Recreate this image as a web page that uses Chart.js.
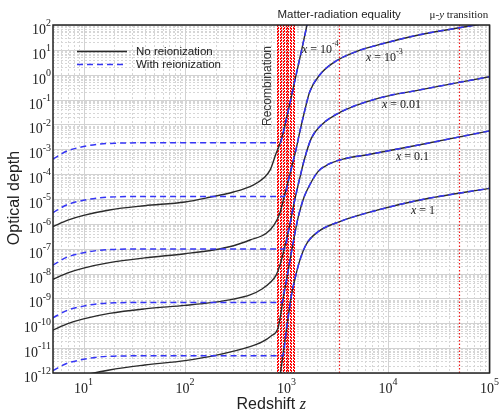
<!DOCTYPE html>
<html>
<head>
<meta charset="utf-8">
<script src="https://cdn.jsdelivr.net/npm/chart.js@4.4.0/dist/chart.umd.min.js"></script>
<style>
  body { margin: 0; background: #fff; }
  canvas { display: block; }
</style>
</head>
<body>
<canvas id="chart" width="502" height="413"></canvas>
<script>
// redshift / optical depth
// black solid = no reionization, blue dashed = with reionization

const z_no_1e4   = [5, 7, 10, 18, 40, 100, 175, 300, 470, 600, 690, 790, 860, 925, 1000, 1120, 1260, 1410, 1600]
const tau_no_1e4 = [7.76e-7, 1.41e-6, 2.19e-6, 3.63e-6, 5.37e-6, 7.59e-6, 1.17e-5, 1.91e-5, 3.63e-5, 7.08e-5, 1.48e-4, 6.92e-4, 1.66e-3, 4.47e-3, 1.78e-2, 0.141, 1.26, 10, 112]

const z_no_1e3   = [5, 7, 10, 18, 40, 100, 190, 300, 437, 632, 760, 857, 950, 1050, 1150, 1250, 1343, 1500, 1690, 2110, 2990, 5000, 7980, 20000, 64000, 100000]
const tau_no_1e3 = [5.89e-9, 1.07e-8, 1.66e-8, 2.75e-8, 4.27e-8, 6.31e-8, 8.91e-8, 1.32e-7, 2.24e-7, 4.17e-7, 9.55e-7, 2.63e-6, 1.26e-5, 6.31e-5, 2.82e-4, 1.12e-3, 4.47e-3, 3.16e-2, 0.2, 0.955, 3.31, 8.91, 15.8, 39.8, 91.2, 126]

const z_no_1e2   = [5, 7, 10, 18, 40, 100, 190, 300, 437, 574, 690, 790, 870, 950, 1050, 1205, 1349, 1510, 1754, 2203, 3467, 7962, 20000, 100000]
const tau_no_1e2 = [5.37e-11, 9.77e-11, 1.51e-10, 2.51e-10, 3.8e-10, 5.25e-10, 6.92e-10, 9.33e-10, 1.38e-9, 2.4e-9, 4.37e-9, 8.71e-9, 2.51e-8, 1.0e-7, 5.62e-7, 9.12e-6, 6.76e-5, 4.37e-4, 2.75e-3, 9.55e-3, 3.24e-2, 0.112, 0.24, 0.832]

const z_no_1e1   = [5, 7, 10, 18, 40, 100, 205, 437, 574, 700, 824, 880, 925, 1000, 1100, 1200, 1300, 1455, 1567, 2043, 2600, 3740, 6650, 20000, 100000]
const tau_no_1e1 = [2.82e-13, 5.01e-13, 7.94e-13, 1.32e-12, 2.09e-12, 3.16e-12, 5.25e-12, 1.15e-11, 1.78e-11, 3.02e-11, 6.46e-11, 2.51e-10, 1.0e-9, 5.62e-9, 5.01e-8, 3.55e-7, 1.78e-6, 9.12e-6, 1.95e-5, 1.26e-4, 2.51e-4, 4.17e-4, 6.31e-4, 1.48e-3, 5.5e-3]

const z_no_1   = [700, 824, 862, 900, 995, 1115, 1205, 1349, 1567, 2043, 3340, 7960, 20650, 100000]
const tau_no_1 = [1.78e-13, 3.16e-13, 7.94e-13, 2.51e-12, 5.01e-11, 1.26e-9, 5.62e-9, 3.31e-8, 1.51e-7, 4.79e-7, 1.23e-6, 3.63e-6, 9.12e-6, 2.69e-5]

const z_re_1e4   = [5, 6.8, 10, 14.5, 21, 40, 200, 866, 925, 1000, 1120, 1260, 1410, 1600]
const tau_re_1e4 = [4.07e-4, 8.32e-4, 1.29e-3, 1.62e-3, 1.76e-3, 1.82e-3, 1.82e-3, 1.82e-3, 4.47e-3, 1.78e-2, 0.141, 1.26, 10, 112]

const z_re_1e3   = [5, 6.8, 10, 14.5, 21, 40, 200, 950, 1050, 1150, 1250, 1343, 1500, 1690, 2110, 2990, 5000, 7980, 20000, 64000, 100000]
const tau_re_1e3 = [2.82e-6, 5.75e-6, 8.91e-6, 1.12e-5, 1.22e-5, 1.26e-5, 1.26e-5, 1.26e-5, 6.31e-5, 2.82e-4, 1.12e-3, 4.47e-3, 3.16e-2, 0.2, 0.955, 3.31, 8.91, 15.8, 39.8, 91.2, 126]

const z_re_1e2   = [5, 6.8, 10, 14.5, 21, 40, 200, 950, 1050, 1205, 1349, 1510, 1754, 2203, 3467, 7962, 20000, 100000]
const tau_re_1e2 = [2.19e-8, 4.47e-8, 6.92e-8, 8.71e-8, 9.44e-8, 9.77e-8, 9.77e-8, 9.77e-8, 5.62e-7, 9.12e-6, 6.76e-5, 4.37e-4, 2.75e-3, 9.55e-3, 3.24e-2, 0.112, 0.24, 0.832]

const z_re_1e1   = [5, 6.8, 10, 14.5, 21, 40, 200, 913, 925, 1000, 1100, 1200, 1300, 1455, 1567, 2043, 2600, 3740, 6650, 20000, 100000]
const tau_re_1e1 = [1.66e-10, 3.24e-10, 4.9e-10, 6.17e-10, 6.68e-10, 6.92e-10, 6.92e-10, 6.92e-10, 1.0e-9, 5.62e-9, 5.01e-8, 3.55e-7, 1.78e-6, 9.12e-6, 1.95e-5, 1.26e-4, 2.51e-4, 4.17e-4, 6.31e-4, 1.48e-3, 5.5e-3]

const z_re_1   = [5, 6.8, 10, 14.5, 21, 40, 200, 920, 995, 1115, 1205, 1349, 1567, 2043, 3340, 7960, 20650, 100000]
const tau_re_1 = [1.26e-12, 2.4e-12, 3.55e-12, 4.47e-12, 4.79e-12, 4.9e-12, 4.9e-12, 4.9e-12, 5.01e-11, 1.26e-9, 5.62e-9, 3.31e-8, 1.51e-7, 4.79e-7, 1.23e-6, 3.63e-6, 9.12e-6, 2.69e-5]

// vertical markers (redshift)
const recombZ = [800, 830, 860, 890, 920, 950, 980, 1010, 1045, 1080, 1115, 1150, 1190]
const equalityZ = 3300
const muyZ = 50000

const yExponents = [2, 1, 0, -1, -2, -3, -4, -5, -6, -7, -8, -9, -10, -11, -12]
const xExponents = [1, 2, 3, 4, 5]

const BLACK = '#2b2b2b'
const BLUE = '#3535f5'

function pts(zs, taus) {
    return zs.map((z, i) => ({x: z, y: taus[i]}))
}

function solid(zs, taus) {
    return {data: pts(zs, taus), borderColor: BLACK, borderWidth: 1.4, order: 2}
}
function dashed(zs, taus) {
    return {data: pts(zs, taus), borderColor: BLUE, borderWidth: 1.5, borderDash: [6, 4], order: 1}
}

// draws "10" with a raised exponent
function pow10(ctx, x, y, exp, size, align) {
    ctx.font = size + 'px "Liberation Serif"'
    const wb = ctx.measureText('10').width
    const small = Math.round(size * 0.68)
    ctx.font = small + 'px "Liberation Serif"'
    const we = ctx.measureText(exp).width
    let x0 = x
    if (align === 'right') x0 = x - wb - we
    else if (align === 'center') x0 = x - (wb + we) / 2
    ctx.textAlign = 'left'
    ctx.textBaseline = 'alphabetic'
    ctx.font = size + 'px "Liberation Serif"'
    ctx.fillText('10', x0, y)
    ctx.font = small + 'px "Liberation Serif"'
    ctx.fillText(exp, x0 + wb, y - size * 0.55)
    return x0 + wb + we
}

function curveLabel(ctx, x, y, value, exp) {
    ctx.fillStyle = '#222'
    ctx.textAlign = 'left'
    ctx.textBaseline = 'alphabetic'
    ctx.font = 'italic 12px "Liberation Serif"'
    ctx.fillText('x', x, y)
    let w = ctx.measureText('x').width
    ctx.font = '12px "Liberation Serif"'
    const eq = ' = ' + (exp ? '' : value)
    ctx.fillText(eq, x + w, y)
    w += ctx.measureText(eq).width
    if (exp) pow10(ctx, x + w, y, exp, 12, 'left')
}

const decor = {
    id: 'decor',
    beforeDatasetsDraw(chart) {
        const {ctx, chartArea: a, scales: {x, y}} = chart
        ctx.save()
        ctx.lineWidth = 1
        // horizontal grid
        for (let e = -12; e <= 2; e++) {
            for (let m = 1; m <= 9; m++) {
                const v = m * Math.pow(10, e)
                if (v > y.max * 1.0001) continue
                const py = Math.round(y.getPixelForValue(v)) + 0.5
                ctx.beginPath()
                if (m === 1) { ctx.setLineDash([]); ctx.strokeStyle = '#d2d2d2' }
                else { ctx.setLineDash([2, 2]); ctx.strokeStyle = '#d6d6d6' }
                ctx.moveTo(a.left, py); ctx.lineTo(a.right, py); ctx.stroke()
            }
        }
        // vertical grid
        for (let e = 0; e <= 5; e++) {
            for (let m = 1; m <= 9; m++) {
                const v = m * Math.pow(10, e)
                if (v < x.min || v > x.max * 1.0001) continue
                const px = Math.round(x.getPixelForValue(v)) + 0.5
                ctx.beginPath()
                if (m === 1) { ctx.setLineDash([]); ctx.strokeStyle = '#d2d2d2' }
                else { ctx.setLineDash([2, 2]); ctx.strokeStyle = '#d6d6d6' }
                ctx.moveTo(px, a.top); ctx.lineTo(px, a.bottom); ctx.stroke()
            }
        }
        // recombination band
        ctx.strokeStyle = '#ff0000'
        ctx.lineWidth = 1
        ctx.setLineDash([2, 1])
        recombZ.forEach((z, i) => {
            const px = Math.round(x.getPixelForValue(z)) + 0.5
            ctx.lineDashOffset = i % 2
            ctx.beginPath(); ctx.moveTo(px, a.top); ctx.lineTo(px, a.bottom); ctx.stroke()
        })
        ctx.lineDashOffset = 0
        // equality and mu-y lines (white under-stroke so the grid does not grey them)
        ;[equalityZ, muyZ].forEach(z => {
            const px = Math.round(x.getPixelForValue(z)) + 0.5
            ctx.setLineDash([])
            ctx.strokeStyle = '#ffffff'
            ctx.lineWidth = 1
            ctx.beginPath(); ctx.moveTo(px, a.top); ctx.lineTo(px, a.bottom); ctx.stroke()
            ctx.setLineDash([1.5, 2])
            ctx.strokeStyle = '#f01818'
            ctx.lineWidth = 1.2
            ctx.beginPath(); ctx.moveTo(px, a.top); ctx.lineTo(px, a.bottom); ctx.stroke()
        })
        ctx.restore()
    },
    afterDatasetsDraw(chart) {
        const {ctx, chartArea: a, scales: {x, y}} = chart
        ctx.save()
        // frame
        ctx.strokeStyle = '#222'
        ctx.lineWidth = 1.5
        ctx.setLineDash([])
        ctx.strokeRect(a.left, a.top, a.right - a.left, a.bottom - a.top)

        // tick labels
        ctx.fillStyle = '#222'
        yExponents.forEach(e => {
            const py = y.getPixelForValue(Math.pow(10, e))
            pow10(ctx, 51, py + 9, String(e), 14, 'right')
        })
        xExponents.forEach(e => {
            const px = x.getPixelForValue(Math.pow(10, e))
            pow10(ctx, px, 393, String(e), 14, 'center')
        })

        // axis titles
        ctx.fillStyle = '#222'
        ctx.font = '16px "Liberation Sans"'
        ctx.textBaseline = 'alphabetic'
        ctx.textAlign = 'left'
        const t1 = 'Redshift '
        const w1 = ctx.measureText(t1).width
        ctx.font = 'italic 16px "Liberation Serif"'
        const w2 = ctx.measureText('z').width
        const cx = (a.left + a.right) / 2
        ctx.font = '16px "Liberation Sans"'
        ctx.fillText(t1, cx - (w1 + w2) / 2, 409)
        ctx.font = 'italic 16px "Liberation Serif"'
        ctx.fillText('z', cx - (w1 + w2) / 2 + w1, 409)

        ctx.save()
        ctx.translate(19, (a.top + a.bottom) / 2 - 1)
        ctx.rotate(-Math.PI / 2)
        ctx.textAlign = 'center'
        ctx.font = '16px "Liberation Sans"'
        ctx.fillText('Optical depth', 0, 0)
        ctx.restore()

        // top labels
        ctx.textAlign = 'center'
        ctx.font = '11.5px "Liberation Sans"'
        ctx.fillStyle = '#222'
        ctx.fillText('Matter-radiation equality', x.getPixelForValue(equalityZ), 18)
        ctx.textAlign = 'left'
        ctx.font = '11px "Liberation Serif"'
        const mu = '\u03bc-'
        const wm = ctx.measureText(mu).width
        ctx.font = 'italic 11px "Liberation Serif"'
        const wy = ctx.measureText('y').width
        ctx.font = '11px "Liberation Serif"'
        const wt = ctx.measureText(' transition').width
        let sx = x.getPixelForValue(muyZ) - (wm + wy + wt) / 2
        ctx.fillText(mu, sx, 18)
        ctx.font = 'italic 11px "Liberation Serif"'
        ctx.fillText('y', sx + wm, 18)
        ctx.font = '11px "Liberation Serif"'
        ctx.fillText(' transition', sx + wm + wy, 18)

        // recombination
        ctx.save()
        ctx.translate(271, 86)
        ctx.rotate(-Math.PI / 2)
        ctx.textAlign = 'center'
        ctx.font = '12px "Liberation Sans"'
        ctx.fillStyle = '#333'
        ctx.fillText('Recombination', 0, 0)
        ctx.restore()

        // curve labels
        curveLabel(ctx, 302, 53, null, '-4')
        curveLabel(ctx, 366, 61, null, '-3')
        curveLabel(ctx, 382, 108, '0.01')
        curveLabel(ctx, 396, 160, '0.1')
        curveLabel(ctx, 411, 214, '1')

        // legend
        const items = [
            {label: 'No reionization', color: BLACK, dash: []},
            {label: 'With reionization', color: BLUE, dash: [6, 4]}
        ]
        items.forEach((it, i) => {
            const ly = 51 + i * 13
            ctx.strokeStyle = it.color
            ctx.lineWidth = 1.5
            ctx.setLineDash(it.dash)
            ctx.beginPath(); ctx.moveTo(77, ly + 0.5); ctx.lineTo(127, ly + 0.5); ctx.stroke()
            ctx.setLineDash([])
            ctx.fillStyle = '#222'
            ctx.font = '11.5px "Liberation Sans"'
            ctx.textAlign = 'left'
            ctx.textBaseline = 'middle'
            ctx.fillText(it.label, 136, ly + 1)
        })
        ctx.restore()
    }
}

new Chart(document.getElementById('chart'), {
    type: 'line',
    data: {
        datasets: [
            dashed(z_re_1e4, tau_re_1e4),
            dashed(z_re_1e3, tau_re_1e3),
            dashed(z_re_1e2, tau_re_1e2),
            dashed(z_re_1e1, tau_re_1e1),
            dashed(z_re_1, tau_re_1),
            solid(z_no_1e4, tau_no_1e4),
            solid(z_no_1e3, tau_no_1e3),
            solid(z_no_1e2, tau_no_1e2),
            solid(z_no_1e1, tau_no_1e1),
            solid(z_no_1, tau_no_1)
        ]
    },
    options: {
        responsive: false,
        animation: false,
        devicePixelRatio: 1,
        layout: {padding: {left: 53, top: 25, right: 12.5, bottom: 40}},
        elements: {
            point: {radius: 0},
            line: {cubicInterpolationMode: 'monotone', fill: false}
        },
        scales: {
            x: {type: 'logarithmic', min: 5, max: 100000, display: false},
            y: {type: 'logarithmic', min: 1e-12, max: 100, display: false}
        },
        plugins: {
            legend: {display: false},
            tooltip: {enabled: false}
        }
    },
    plugins: [decor]
})
</script>
</body>
</html>
